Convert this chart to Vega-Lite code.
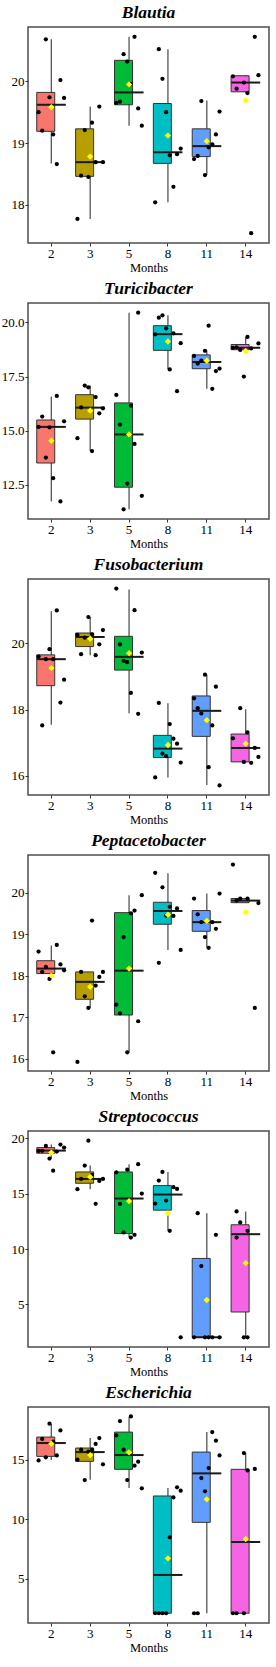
{
  "$schema": "https://vega.github.io/schema/vega-lite/v6.json",
  "padding": {"left": 0, "top": 2, "right": 0, "bottom": 0},
  "spacing": 3,
  "datasets": {
    "boxes": [
      {"genus": "Blautia", "month": "2", "lower": 18.67, "q1": 19.19, "median": 19.62, "q3": 19.82, "upper": 20.68, "mean": 19.58},
      {"genus": "Blautia", "month": "3", "lower": 17.77, "q1": 18.46, "median": 18.69, "q3": 19.23, "upper": 19.59, "mean": 18.78},
      {"genus": "Blautia", "month": "5", "lower": 19.28, "q1": 19.62, "median": 19.82, "q3": 20.34, "upper": 20.72, "mean": 19.95},
      {"genus": "Blautia", "month": "8", "lower": 18.04, "q1": 18.67, "median": 18.85, "q3": 19.64, "upper": 20.52, "mean": 19.12},
      {"genus": "Blautia", "month": "11", "lower": 18.48, "q1": 18.78, "median": 18.95, "q3": 19.23, "upper": 19.69, "mean": 19.03},
      {"genus": "Blautia", "month": "14", "lower": 19.81, "q1": 19.83, "median": 19.98, "q3": 20.09, "upper": 20.10, "mean": 19.69},
      {"genus": "Turicibacter", "month": "2", "lower": 11.72, "q1": 13.50, "median": 15.17, "q3": 15.49, "upper": 16.58, "mean": 14.53},
      {"genus": "Turicibacter", "month": "3", "lower": 14.05, "q1": 15.53, "median": 16.06, "q3": 16.66, "upper": 17.08, "mean": 15.92},
      {"genus": "Turicibacter", "month": "5", "lower": 11.36, "q1": 12.38, "median": 14.82, "q3": 16.28, "upper": 20.45, "mean": 14.82},
      {"genus": "Turicibacter", "month": "8", "lower": 17.83, "q1": 18.71, "median": 19.46, "q3": 19.85, "upper": 20.33, "mean": 19.12},
      {"genus": "Turicibacter", "month": "11", "lower": 16.93, "q1": 17.86, "median": 18.17, "q3": 18.50, "upper": 18.69, "mean": 18.23},
      {"genus": "Turicibacter", "month": "14", "lower": 18.73, "q1": 18.74, "median": 18.83, "q3": 18.98, "upper": 19.33, "mean": 18.68},
      {"genus": "Fusobacterium", "month": "2", "lower": 17.54, "q1": 18.72, "median": 19.52, "q3": 19.65, "upper": 20.97, "mean": 19.25},
      {"genus": "Fusobacterium", "month": "3", "lower": 19.64, "q1": 19.90, "median": 20.19, "q3": 20.31, "upper": 20.79, "mean": 20.14},
      {"genus": "Fusobacterium", "month": "5", "lower": 17.89, "q1": 19.19, "median": 19.59, "q3": 20.21, "upper": 21.62, "mean": 19.70},
      {"genus": "Fusobacterium", "month": "8", "lower": 15.95, "q1": 16.55, "median": 16.82, "q3": 17.22, "upper": 18.19, "mean": 16.93},
      {"genus": "Fusobacterium", "month": "11", "lower": 15.72, "q1": 17.19, "median": 17.96, "q3": 18.41, "upper": 19.05, "mean": 17.68},
      {"genus": "Fusobacterium", "month": "14", "lower": 16.39, "q1": 16.42, "median": 16.84, "q3": 17.26, "upper": 18.01, "mean": 16.97},
      {"genus": "Peptacetobacter", "month": "2", "lower": 17.92, "q1": 18.05, "median": 18.17, "q3": 18.36, "upper": 18.73, "mean": 18.00},
      {"genus": "Peptacetobacter", "month": "3", "lower": 17.22, "q1": 17.43, "median": 17.85, "q3": 18.09, "upper": 18.09, "mean": 17.73},
      {"genus": "Peptacetobacter", "month": "5", "lower": 16.15, "q1": 17.05, "median": 18.12, "q3": 19.52, "upper": 19.94, "mean": 18.17},
      {"genus": "Peptacetobacter", "month": "8", "lower": 18.62, "q1": 19.24, "median": 19.56, "q3": 19.77, "upper": 20.47, "mean": 19.47},
      {"genus": "Peptacetobacter", "month": "11", "lower": 18.67, "q1": 19.07, "median": 19.29, "q3": 19.57, "upper": 19.98, "mean": 19.32},
      {"genus": "Peptacetobacter", "month": "14", "lower": 19.75, "q1": 19.76, "median": 19.81, "q3": 19.86, "upper": 19.86, "mean": 19.53},
      {"genus": "Streptococcus", "month": "2", "lower": 18.17, "q1": 18.65, "median": 18.89, "q3": 19.16, "upper": 19.43, "mean": 18.71},
      {"genus": "Streptococcus", "month": "3", "lower": 15.40, "q1": 15.94, "median": 16.33, "q3": 16.96, "upper": 17.54, "mean": 16.51},
      {"genus": "Streptococcus", "month": "5", "lower": 11.04, "q1": 11.40, "median": 14.56, "q3": 16.96, "upper": 17.66, "mean": 14.32},
      {"genus": "Streptococcus", "month": "8", "lower": 11.64, "q1": 13.51, "median": 14.92, "q3": 15.73, "upper": 16.96, "mean": 13.24},
      {"genus": "Streptococcus", "month": "11", "lower": 2.03, "q1": 2.03, "median": 2.03, "q3": 9.15, "upper": 13.24, "mean": 5.39},
      {"genus": "Streptococcus", "month": "14", "lower": 2.03, "q1": 4.31, "median": 11.34, "q3": 12.19, "upper": 13.39, "mean": 8.73},
      {"genus": "Escherichia", "month": "2", "lower": 14.97, "q1": 15.28, "median": 16.40, "q3": 16.90, "upper": 18.00, "mean": 16.34},
      {"genus": "Escherichia", "month": "3", "lower": 13.32, "q1": 14.86, "median": 15.64, "q3": 15.98, "upper": 16.82, "mean": 15.39},
      {"genus": "Escherichia", "month": "5", "lower": 12.62, "q1": 14.19, "median": 15.39, "q3": 17.32, "upper": 18.56, "mean": 15.62},
      {"genus": "Escherichia", "month": "8", "lower": 2.09, "q1": 2.09, "median": 5.31, "q3": 11.95, "upper": 12.62, "mean": 6.71},
      {"genus": "Escherichia", "month": "11", "lower": 2.09, "q1": 9.73, "median": 13.85, "q3": 15.64, "upper": 17.32, "mean": 11.67},
      {"genus": "Escherichia", "month": "14", "lower": 2.09, "q1": 2.09, "median": 8.08, "q3": 14.19, "upper": 15.56, "mean": 8.33}
    ],
    "points": [
      {"genus": "Blautia", "month": "2", "rep": 1, "value": 19.50}, {"genus": "Blautia", "month": "2", "rep": 2, "value": 19.20}, {"genus": "Blautia", "month": "2", "rep": 3, "value": 20.68}, {"genus": "Blautia", "month": "2", "rep": 4, "value": 19.74}, {"genus": "Blautia", "month": "2", "rep": 5, "value": 19.14}, {"genus": "Blautia", "month": "2", "rep": 6, "value": 18.66}, {"genus": "Blautia", "month": "2", "rep": 7, "value": 20.02}, {"genus": "Blautia", "month": "2", "rep": 8, "value": 19.73},
      {"genus": "Blautia", "month": "3", "rep": 1, "value": 17.77}, {"genus": "Blautia", "month": "3", "rep": 2, "value": 18.47}, {"genus": "Blautia", "month": "3", "rep": 3, "value": 19.21}, {"genus": "Blautia", "month": "3", "rep": 4, "value": 18.45}, {"genus": "Blautia", "month": "3", "rep": 5, "value": 19.33}, {"genus": "Blautia", "month": "3", "rep": 6, "value": 18.69}, {"genus": "Blautia", "month": "3", "rep": 7, "value": 19.59}, {"genus": "Blautia", "month": "3", "rep": 8, "value": 18.69},
      {"genus": "Blautia", "month": "5", "rep": 1, "value": 19.65}, {"genus": "Blautia", "month": "5", "rep": 2, "value": 19.67}, {"genus": "Blautia", "month": "5", "rep": 3, "value": 20.44}, {"genus": "Blautia", "month": "5", "rep": 4, "value": 20.32}, {"genus": "Blautia", "month": "5", "rep": 5, "value": 19.96}, {"genus": "Blautia", "month": "5", "rep": 6, "value": 20.72}, {"genus": "Blautia", "month": "5", "rep": 7, "value": 19.56}, {"genus": "Blautia", "month": "5", "rep": 8, "value": 19.28},
      {"genus": "Blautia", "month": "8", "rep": 1, "value": 18.04}, {"genus": "Blautia", "month": "8", "rep": 2, "value": 20.52}, {"genus": "Blautia", "month": "8", "rep": 3, "value": 20.04}, {"genus": "Blautia", "month": "8", "rep": 4, "value": 19.50}, {"genus": "Blautia", "month": "8", "rep": 5, "value": 18.80}, {"genus": "Blautia", "month": "8", "rep": 6, "value": 18.29}, {"genus": "Blautia", "month": "8", "rep": 7, "value": 18.82}, {"genus": "Blautia", "month": "8", "rep": 8, "value": 18.91},
      {"genus": "Blautia", "month": "11", "rep": 1, "value": 18.74}, {"genus": "Blautia", "month": "11", "rep": 2, "value": 18.79}, {"genus": "Blautia", "month": "11", "rep": 3, "value": 19.68}, {"genus": "Blautia", "month": "11", "rep": 4, "value": 18.48}, {"genus": "Blautia", "month": "11", "rep": 5, "value": 18.93}, {"genus": "Blautia", "month": "11", "rep": 6, "value": 18.98}, {"genus": "Blautia", "month": "11", "rep": 7, "value": 19.14}, {"genus": "Blautia", "month": "11", "rep": 8, "value": 19.51},
      {"genus": "Blautia", "month": "14", "rep": 1, "value": 20.08}, {"genus": "Blautia", "month": "14", "rep": 2, "value": 19.88}, {"genus": "Blautia", "month": "14", "rep": 4, "value": 19.98}, {"genus": "Blautia", "month": "14", "rep": 5, "value": 19.81}, {"genus": "Blautia", "month": "14", "rep": 6, "value": 17.54}, {"genus": "Blautia", "month": "14", "rep": 7, "value": 20.72}, {"genus": "Blautia", "month": "14", "rep": 8, "value": 20.10},

      {"genus": "Turicibacter", "month": "2", "rep": 1, "value": 15.17}, {"genus": "Turicibacter", "month": "2", "rep": 2, "value": 15.65}, {"genus": "Turicibacter", "month": "2", "rep": 3, "value": 13.75}, {"genus": "Turicibacter", "month": "2", "rep": 4, "value": 15.15}, {"genus": "Turicibacter", "month": "2", "rep": 5, "value": 12.80}, {"genus": "Turicibacter", "month": "2", "rep": 6, "value": 16.60}, {"genus": "Turicibacter", "month": "2", "rep": 7, "value": 11.72}, {"genus": "Turicibacter", "month": "2", "rep": 8, "value": 15.43},
      {"genus": "Turicibacter", "month": "3", "rep": 1, "value": 14.65}, {"genus": "Turicibacter", "month": "3", "rep": 2, "value": 16.07}, {"genus": "Turicibacter", "month": "3", "rep": 3, "value": 17.08}, {"genus": "Turicibacter", "month": "3", "rep": 4, "value": 17.00}, {"genus": "Turicibacter", "month": "3", "rep": 5, "value": 14.05}, {"genus": "Turicibacter", "month": "3", "rep": 6, "value": 16.55}, {"genus": "Turicibacter", "month": "3", "rep": 7, "value": 15.80}, {"genus": "Turicibacter", "month": "3", "rep": 8, "value": 16.03},
      {"genus": "Turicibacter", "month": "5", "rep": 1, "value": 16.65}, {"genus": "Turicibacter", "month": "5", "rep": 2, "value": 15.28}, {"genus": "Turicibacter", "month": "5", "rep": 3, "value": 11.36}, {"genus": "Turicibacter", "month": "5", "rep": 4, "value": 12.55}, {"genus": "Turicibacter", "month": "5", "rep": 5, "value": 16.15}, {"genus": "Turicibacter", "month": "5", "rep": 6, "value": 14.38}, {"genus": "Turicibacter", "month": "5", "rep": 7, "value": 20.45}, {"genus": "Turicibacter", "month": "5", "rep": 8, "value": 11.98},
      {"genus": "Turicibacter", "month": "8", "rep": 1, "value": 19.45}, {"genus": "Turicibacter", "month": "8", "rep": 2, "value": 20.22}, {"genus": "Turicibacter", "month": "8", "rep": 3, "value": 20.33}, {"genus": "Turicibacter", "month": "8", "rep": 4, "value": 19.73}, {"genus": "Turicibacter", "month": "8", "rep": 5, "value": 17.83}, {"genus": "Turicibacter", "month": "8", "rep": 6, "value": 19.50}, {"genus": "Turicibacter", "month": "8", "rep": 7, "value": 16.82}, {"genus": "Turicibacter", "month": "8", "rep": 8, "value": 19.04},
      {"genus": "Turicibacter", "month": "11", "rep": 1, "value": 18.45}, {"genus": "Turicibacter", "month": "11", "rep": 2, "value": 18.10}, {"genus": "Turicibacter", "month": "11", "rep": 3, "value": 18.23}, {"genus": "Turicibacter", "month": "11", "rep": 4, "value": 18.69}, {"genus": "Turicibacter", "month": "11", "rep": 5, "value": 19.85}, {"genus": "Turicibacter", "month": "11", "rep": 6, "value": 16.93}, {"genus": "Turicibacter", "month": "11", "rep": 7, "value": 17.75}, {"genus": "Turicibacter", "month": "11", "rep": 8, "value": 17.87},
      {"genus": "Turicibacter", "month": "14", "rep": 1, "value": 18.83}, {"genus": "Turicibacter", "month": "14", "rep": 2, "value": 18.85}, {"genus": "Turicibacter", "month": "14", "rep": 3, "value": 18.73}, {"genus": "Turicibacter", "month": "14", "rep": 4, "value": 17.50}, {"genus": "Turicibacter", "month": "14", "rep": 5, "value": 19.33}, {"genus": "Turicibacter", "month": "14", "rep": 6, "value": 18.80}, {"genus": "Turicibacter", "month": "14", "rep": 8, "value": 19.03},

      {"genus": "Fusobacterium", "month": "2", "rep": 1, "value": 19.60}, {"genus": "Fusobacterium", "month": "2", "rep": 2, "value": 17.52}, {"genus": "Fusobacterium", "month": "2", "rep": 3, "value": 19.52}, {"genus": "Fusobacterium", "month": "2", "rep": 4, "value": 19.82}, {"genus": "Fusobacterium", "month": "2", "rep": 5, "value": 19.52}, {"genus": "Fusobacterium", "month": "2", "rep": 6, "value": 20.99}, {"genus": "Fusobacterium", "month": "2", "rep": 7, "value": 18.21}, {"genus": "Fusobacterium", "month": "2", "rep": 8, "value": 18.90},
      {"genus": "Fusobacterium", "month": "3", "rep": 1, "value": 20.25}, {"genus": "Fusobacterium", "month": "3", "rep": 2, "value": 19.67}, {"genus": "Fusobacterium", "month": "3", "rep": 3, "value": 20.17}, {"genus": "Fusobacterium", "month": "3", "rep": 4, "value": 20.79}, {"genus": "Fusobacterium", "month": "3", "rep": 5, "value": 20.27}, {"genus": "Fusobacterium", "month": "3", "rep": 6, "value": 19.64}, {"genus": "Fusobacterium", "month": "3", "rep": 7, "value": 19.97}, {"genus": "Fusobacterium", "month": "3", "rep": 8, "value": 20.40},
      {"genus": "Fusobacterium", "month": "5", "rep": 1, "value": 21.65}, {"genus": "Fusobacterium", "month": "5", "rep": 2, "value": 19.97}, {"genus": "Fusobacterium", "month": "5", "rep": 3, "value": 19.47}, {"genus": "Fusobacterium", "month": "5", "rep": 4, "value": 19.43}, {"genus": "Fusobacterium", "month": "5", "rep": 5, "value": 18.50}, {"genus": "Fusobacterium", "month": "5", "rep": 6, "value": 21.00}, {"genus": "Fusobacterium", "month": "5", "rep": 7, "value": 17.87}, {"genus": "Fusobacterium", "month": "5", "rep": 8, "value": 19.72},
      {"genus": "Fusobacterium", "month": "8", "rep": 1, "value": 15.95}, {"genus": "Fusobacterium", "month": "8", "rep": 2, "value": 18.20}, {"genus": "Fusobacterium", "month": "8", "rep": 3, "value": 16.67}, {"genus": "Fusobacterium", "month": "8", "rep": 4, "value": 16.59}, {"genus": "Fusobacterium", "month": "8", "rep": 5, "value": 17.56}, {"genus": "Fusobacterium", "month": "8", "rep": 6, "value": 17.12}, {"genus": "Fusobacterium", "month": "8", "rep": 7, "value": 16.97}, {"genus": "Fusobacterium", "month": "8", "rep": 8, "value": 16.40},
      {"genus": "Fusobacterium", "month": "11", "rep": 1, "value": 18.34}, {"genus": "Fusobacterium", "month": "11", "rep": 2, "value": 18.04}, {"genus": "Fusobacterium", "month": "11", "rep": 3, "value": 17.88}, {"genus": "Fusobacterium", "month": "11", "rep": 4, "value": 19.05}, {"genus": "Fusobacterium", "month": "11", "rep": 5, "value": 16.26}, {"genus": "Fusobacterium", "month": "11", "rep": 6, "value": 17.52}, {"genus": "Fusobacterium", "month": "11", "rep": 7, "value": 18.69}, {"genus": "Fusobacterium", "month": "11", "rep": 8, "value": 15.71},
      {"genus": "Fusobacterium", "month": "14", "rep": 1, "value": 17.13}, {"genus": "Fusobacterium", "month": "14", "rep": 3, "value": 18.04}, {"genus": "Fusobacterium", "month": "14", "rep": 4, "value": 16.42}, {"genus": "Fusobacterium", "month": "14", "rep": 5, "value": 17.31}, {"genus": "Fusobacterium", "month": "14", "rep": 6, "value": 16.39}, {"genus": "Fusobacterium", "month": "14", "rep": 7, "value": 16.84}, {"genus": "Fusobacterium", "month": "14", "rep": 8, "value": 16.57},

      {"genus": "Peptacetobacter", "month": "2", "rep": 1, "value": 18.58}, {"genus": "Peptacetobacter", "month": "2", "rep": 2, "value": 18.09}, {"genus": "Peptacetobacter", "month": "2", "rep": 3, "value": 18.21}, {"genus": "Peptacetobacter", "month": "2", "rep": 4, "value": 17.92}, {"genus": "Peptacetobacter", "month": "2", "rep": 5, "value": 16.15}, {"genus": "Peptacetobacter", "month": "2", "rep": 6, "value": 18.74}, {"genus": "Peptacetobacter", "month": "2", "rep": 7, "value": 18.27}, {"genus": "Peptacetobacter", "month": "2", "rep": 8, "value": 18.13},
      {"genus": "Peptacetobacter", "month": "3", "rep": 1, "value": 15.92}, {"genus": "Peptacetobacter", "month": "3", "rep": 2, "value": 18.09}, {"genus": "Peptacetobacter", "month": "3", "rep": 3, "value": 17.50}, {"genus": "Peptacetobacter", "month": "3", "rep": 4, "value": 17.22}, {"genus": "Peptacetobacter", "month": "3", "rep": 5, "value": 19.33}, {"genus": "Peptacetobacter", "month": "3", "rep": 6, "value": 17.76}, {"genus": "Peptacetobacter", "month": "3", "rep": 7, "value": 17.97}, {"genus": "Peptacetobacter", "month": "3", "rep": 8, "value": 18.09},
      {"genus": "Peptacetobacter", "month": "5", "rep": 1, "value": 17.30}, {"genus": "Peptacetobacter", "month": "5", "rep": 2, "value": 17.09}, {"genus": "Peptacetobacter", "month": "5", "rep": 3, "value": 18.93}, {"genus": "Peptacetobacter", "month": "5", "rep": 4, "value": 16.15}, {"genus": "Peptacetobacter", "month": "5", "rep": 5, "value": 19.50}, {"genus": "Peptacetobacter", "month": "5", "rep": 6, "value": 19.57}, {"genus": "Peptacetobacter", "month": "5", "rep": 7, "value": 16.90}, {"genus": "Peptacetobacter", "month": "5", "rep": 8, "value": 19.94},
      {"genus": "Peptacetobacter", "month": "8", "rep": 1, "value": 20.48}, {"genus": "Peptacetobacter", "month": "8", "rep": 2, "value": 18.31}, {"genus": "Peptacetobacter", "month": "8", "rep": 3, "value": 20.13}, {"genus": "Peptacetobacter", "month": "8", "rep": 4, "value": 19.45}, {"genus": "Peptacetobacter", "month": "8", "rep": 5, "value": 19.66}, {"genus": "Peptacetobacter", "month": "8", "rep": 6, "value": 19.44}, {"genus": "Peptacetobacter", "month": "8", "rep": 7, "value": 19.62}, {"genus": "Peptacetobacter", "month": "8", "rep": 8, "value": 18.62},
      {"genus": "Peptacetobacter", "month": "11", "rep": 1, "value": 19.86}, {"genus": "Peptacetobacter", "month": "11", "rep": 2, "value": 19.48}, {"genus": "Peptacetobacter", "month": "11", "rep": 3, "value": 19.29}, {"genus": "Peptacetobacter", "month": "11", "rep": 4, "value": 18.93}, {"genus": "Peptacetobacter", "month": "11", "rep": 5, "value": 18.67}, {"genus": "Peptacetobacter", "month": "11", "rep": 6, "value": 19.29}, {"genus": "Peptacetobacter", "month": "11", "rep": 7, "value": 19.13}, {"genus": "Peptacetobacter", "month": "11", "rep": 8, "value": 19.98},
      {"genus": "Peptacetobacter", "month": "14", "rep": 1, "value": 20.68}, {"genus": "Peptacetobacter", "month": "14", "rep": 2, "value": 19.81}, {"genus": "Peptacetobacter", "month": "14", "rep": 3, "value": 19.86}, {"genus": "Peptacetobacter", "month": "14", "rep": 5, "value": 19.86}, {"genus": "Peptacetobacter", "month": "14", "rep": 7, "value": 17.22}, {"genus": "Peptacetobacter", "month": "14", "rep": 8, "value": 19.75},

      {"genus": "Streptococcus", "month": "2", "rep": 1, "value": 18.86}, {"genus": "Streptococcus", "month": "2", "rep": 2, "value": 18.87}, {"genus": "Streptococcus", "month": "2", "rep": 3, "value": 19.31}, {"genus": "Streptococcus", "month": "2", "rep": 4, "value": 18.17}, {"genus": "Streptococcus", "month": "2", "rep": 5, "value": 17.08}, {"genus": "Streptococcus", "month": "2", "rep": 6, "value": 18.80}, {"genus": "Streptococcus", "month": "2", "rep": 7, "value": 19.43}, {"genus": "Streptococcus", "month": "2", "rep": 8, "value": 19.16},
      {"genus": "Streptococcus", "month": "3", "rep": 1, "value": 15.40}, {"genus": "Streptococcus", "month": "3", "rep": 2, "value": 16.33}, {"genus": "Streptococcus", "month": "3", "rep": 3, "value": 17.54}, {"genus": "Streptococcus", "month": "3", "rep": 4, "value": 19.79}, {"genus": "Streptococcus", "month": "3", "rep": 5, "value": 16.69}, {"genus": "Streptococcus", "month": "3", "rep": 6, "value": 14.08}, {"genus": "Streptococcus", "month": "3", "rep": 7, "value": 16.15}, {"genus": "Streptococcus", "month": "3", "rep": 8, "value": 16.33},
      {"genus": "Streptococcus", "month": "5", "rep": 1, "value": 16.93}, {"genus": "Streptococcus", "month": "5", "rep": 2, "value": 14.08}, {"genus": "Streptococcus", "month": "5", "rep": 3, "value": 11.50}, {"genus": "Streptococcus", "month": "5", "rep": 4, "value": 17.17}, {"genus": "Streptococcus", "month": "5", "rep": 5, "value": 11.04}, {"genus": "Streptococcus", "month": "5", "rep": 6, "value": 11.28}, {"genus": "Streptococcus", "month": "5", "rep": 7, "value": 17.66}, {"genus": "Streptococcus", "month": "5", "rep": 8, "value": 15.01},
      {"genus": "Streptococcus", "month": "8", "rep": 1, "value": 14.11}, {"genus": "Streptococcus", "month": "8", "rep": 2, "value": 16.18}, {"genus": "Streptococcus", "month": "8", "rep": 3, "value": 16.96}, {"genus": "Streptococcus", "month": "8", "rep": 4, "value": 14.38}, {"genus": "Streptococcus", "month": "8", "rep": 5, "value": 11.64}, {"genus": "Streptococcus", "month": "8", "rep": 6, "value": 15.58}, {"genus": "Streptococcus", "month": "8", "rep": 7, "value": 15.43}, {"genus": "Streptococcus", "month": "8", "rep": 8, "value": 2.03},
      {"genus": "Streptococcus", "month": "11", "rep": 1, "value": 2.03}, {"genus": "Streptococcus", "month": "11", "rep": 2, "value": 13.24}, {"genus": "Streptococcus", "month": "11", "rep": 3, "value": 8.46}, {"genus": "Streptococcus", "month": "11", "rep": 4, "value": 2.03}, {"genus": "Streptococcus", "month": "11", "rep": 5, "value": 2.03}, {"genus": "Streptococcus", "month": "11", "rep": 6, "value": 2.03}, {"genus": "Streptococcus", "month": "11", "rep": 7, "value": 11.28}, {"genus": "Streptococcus", "month": "11", "rep": 8, "value": 2.03},
      {"genus": "Streptococcus", "month": "14", "rep": 2, "value": 13.39}, {"genus": "Streptococcus", "month": "14", "rep": 2, "value": 11.04}, {"genus": "Streptococcus", "month": "14", "rep": 3, "value": 12.40}, {"genus": "Streptococcus", "month": "14", "rep": 4, "value": 2.03}, {"genus": "Streptococcus", "month": "14", "rep": 5, "value": 2.03}, {"genus": "Streptococcus", "month": "14", "rep": 5, "value": 11.64},

      {"genus": "Escherichia", "month": "2", "rep": 1, "value": 14.94}, {"genus": "Escherichia", "month": "2", "rep": 2, "value": 16.74}, {"genus": "Escherichia", "month": "2", "rep": 3, "value": 15.20}, {"genus": "Escherichia", "month": "2", "rep": 4, "value": 18.03}, {"genus": "Escherichia", "month": "2", "rep": 5, "value": 16.51}, {"genus": "Escherichia", "month": "2", "rep": 6, "value": 15.36}, {"genus": "Escherichia", "month": "2", "rep": 7, "value": 17.46},
      {"genus": "Escherichia", "month": "3", "rep": 1, "value": 15.00}, {"genus": "Escherichia", "month": "3", "rep": 2, "value": 15.84}, {"genus": "Escherichia", "month": "3", "rep": 3, "value": 13.29}, {"genus": "Escherichia", "month": "3", "rep": 4, "value": 15.67}, {"genus": "Escherichia", "month": "3", "rep": 5, "value": 15.84}, {"genus": "Escherichia", "month": "3", "rep": 6, "value": 16.32}, {"genus": "Escherichia", "month": "3", "rep": 7, "value": 16.82}, {"genus": "Escherichia", "month": "3", "rep": 8, "value": 14.61},
      {"genus": "Escherichia", "month": "5", "rep": 1, "value": 17.04}, {"genus": "Escherichia", "month": "5", "rep": 2, "value": 18.25}, {"genus": "Escherichia", "month": "5", "rep": 3, "value": 15.84}, {"genus": "Escherichia", "month": "5", "rep": 4, "value": 13.29}, {"genus": "Escherichia", "month": "5", "rep": 5, "value": 18.64}, {"genus": "Escherichia", "month": "5", "rep": 6, "value": 14.50}, {"genus": "Escherichia", "month": "5", "rep": 7, "value": 14.83}, {"genus": "Escherichia", "month": "5", "rep": 8, "value": 12.59},
      {"genus": "Escherichia", "month": "8", "rep": 1, "value": 2.09}, {"genus": "Escherichia", "month": "8", "rep": 2, "value": 2.09}, {"genus": "Escherichia", "month": "8", "rep": 3, "value": 2.09}, {"genus": "Escherichia", "month": "8", "rep": 4, "value": 2.09}, {"genus": "Escherichia", "month": "8", "rep": 5, "value": 8.47}, {"genus": "Escherichia", "month": "8", "rep": 6, "value": 11.83}, {"genus": "Escherichia", "month": "8", "rep": 7, "value": 12.68}, {"genus": "Escherichia", "month": "8", "rep": 8, "value": 12.39},
      {"genus": "Escherichia", "month": "11", "rep": 1, "value": 2.09}, {"genus": "Escherichia", "month": "11", "rep": 2, "value": 2.09}, {"genus": "Escherichia", "month": "11", "rep": 3, "value": 13.46}, {"genus": "Escherichia", "month": "11", "rep": 4, "value": 12.34}, {"genus": "Escherichia", "month": "11", "rep": 5, "value": 14.30}, {"genus": "Escherichia", "month": "11", "rep": 6, "value": 17.32}, {"genus": "Escherichia", "month": "11", "rep": 7, "value": 16.60}, {"genus": "Escherichia", "month": "11", "rep": 8, "value": 15.36},
      {"genus": "Escherichia", "month": "14", "rep": 1, "value": 2.09}, {"genus": "Escherichia", "month": "14", "rep": 2, "value": 2.09}, {"genus": "Escherichia", "month": "14", "rep": 4, "value": 2.09}, {"genus": "Escherichia", "month": "14", "rep": 4, "value": 15.56}, {"genus": "Escherichia", "month": "14", "rep": 5, "value": 14.10}, {"genus": "Escherichia", "month": "14", "rep": 7, "value": 14.22}
    ]
  },
  "vconcat": [
    {
      "title": "Blautia",
      "width": 241, "height": 216,
      "layer": [
        {"data": {"name": "boxes"}, "transform": [{"filter": "datum.genus === 'Blautia'"}],
         "mark": {"type": "rule", "color": "#555555", "strokeWidth": 1.3},
         "encoding": {
           "x": {"field": "month", "type": "ordinal", "sort": ["2", "3", "5", "8", "11", "14"], "scale": {"type": "band", "paddingInner": 0.25, "paddingOuter": 0.225}, "axis": {"title": "Months", "labelAngle": 0}},
           "y": {"field": "lower", "type": "quantitative", "title": null, "scale": {"domain": [17.38, 20.88], "nice": false, "zero": false}, "axis": {"values": [18, 19, 20], "format": "d"}},
           "y2": {"field": "upper"}}},
        {"data": {"name": "boxes"}, "transform": [{"filter": "datum.genus === 'Blautia'"}],
         "mark": {"type": "bar", "stroke": "#333333", "strokeWidth": 1},
         "encoding": {
           "x": {"field": "month", "type": "ordinal", "sort": ["2", "3", "5", "8", "11", "14"]},
           "y": {"field": "q1", "type": "quantitative", "title": null}, "y2": {"field": "q3"},
           "color": {"field": "month", "type": "nominal", "legend": null, "scale": {"domain": ["2", "3", "5", "8", "11", "14"], "range": ["#F8766D", "#B79F00", "#00BA38", "#00BFC4", "#619CFF", "#F564E3"]}}}},
        {"data": {"name": "boxes"}, "transform": [{"filter": "datum.genus === 'Blautia'"}],
         "mark": {"type": "tick", "color": "#1a1a1a", "thickness": 2, "size": 29, "opacity": 1},
         "encoding": {
           "x": {"field": "month", "type": "ordinal", "sort": ["2", "3", "5", "8", "11", "14"]},
           "y": {"field": "median", "type": "quantitative", "title": null}}},
        {"data": {"name": "points"}, "transform": [{"filter": "datum.genus === 'Blautia'"}],
         "mark": {"type": "circle", "color": "black", "size": 18, "opacity": 1},
         "encoding": {
           "x": {"field": "month", "type": "ordinal", "sort": ["2", "3", "5", "8", "11", "14"]},
           "xOffset": {"field": "rep", "type": "ordinal", "scale": {"domain": [1, 2, 3, 4, 5, 6, 7, 8]}},
           "y": {"field": "value", "type": "quantitative", "title": null}}},
        {"data": {"name": "boxes"}, "transform": [{"filter": "datum.genus === 'Blautia'"}],
         "mark": {"type": "point", "shape": "diamond", "filled": true, "color": "#FFFF00", "size": 40, "opacity": 1},
         "encoding": {
           "x": {"field": "month", "type": "ordinal", "sort": ["2", "3", "5", "8", "11", "14"]},
           "y": {"field": "mean", "type": "quantitative", "title": null}}}
      ]
    },
    {
      "title": "Turicibacter",
      "width": 241, "height": 216,
      "layer": [
        {"data": {"name": "boxes"}, "transform": [{"filter": "datum.genus === 'Turicibacter'"}],
         "mark": {"type": "rule", "color": "#555555", "strokeWidth": 1.3},
         "encoding": {
           "x": {"field": "month", "type": "ordinal", "sort": ["2", "3", "5", "8", "11", "14"], "scale": {"type": "band", "paddingInner": 0.25, "paddingOuter": 0.225}, "axis": {"title": "Months", "labelAngle": 0}},
           "y": {"field": "lower", "type": "quantitative", "title": null, "scale": {"domain": [10.91, 20.9], "nice": false, "zero": false}, "axis": {"values": [12.5, 15, 17.5, 20], "format": ".1f"}},
           "y2": {"field": "upper"}}},
        {"data": {"name": "boxes"}, "transform": [{"filter": "datum.genus === 'Turicibacter'"}],
         "mark": {"type": "bar", "stroke": "#333333", "strokeWidth": 1},
         "encoding": {
           "x": {"field": "month", "type": "ordinal", "sort": ["2", "3", "5", "8", "11", "14"]},
           "y": {"field": "q1", "type": "quantitative", "title": null}, "y2": {"field": "q3"},
           "color": {"field": "month", "type": "nominal", "legend": null, "scale": {"domain": ["2", "3", "5", "8", "11", "14"], "range": ["#F8766D", "#B79F00", "#00BA38", "#00BFC4", "#619CFF", "#F564E3"]}}}},
        {"data": {"name": "boxes"}, "transform": [{"filter": "datum.genus === 'Turicibacter'"}],
         "mark": {"type": "tick", "color": "#1a1a1a", "thickness": 2, "size": 29, "opacity": 1},
         "encoding": {
           "x": {"field": "month", "type": "ordinal", "sort": ["2", "3", "5", "8", "11", "14"]},
           "y": {"field": "median", "type": "quantitative", "title": null}}},
        {"data": {"name": "points"}, "transform": [{"filter": "datum.genus === 'Turicibacter'"}],
         "mark": {"type": "circle", "color": "black", "size": 18, "opacity": 1},
         "encoding": {
           "x": {"field": "month", "type": "ordinal", "sort": ["2", "3", "5", "8", "11", "14"]},
           "xOffset": {"field": "rep", "type": "ordinal", "scale": {"domain": [1, 2, 3, 4, 5, 6, 7, 8]}},
           "y": {"field": "value", "type": "quantitative", "title": null}}},
        {"data": {"name": "boxes"}, "transform": [{"filter": "datum.genus === 'Turicibacter'"}],
         "mark": {"type": "point", "shape": "diamond", "filled": true, "color": "#FFFF00", "size": 40, "opacity": 1},
         "encoding": {
           "x": {"field": "month", "type": "ordinal", "sort": ["2", "3", "5", "8", "11", "14"]},
           "y": {"field": "mean", "type": "quantitative", "title": null}}}
      ]
    },
    {
      "title": "Fusobacterium",
      "width": 241, "height": 216,
      "layer": [
        {"data": {"name": "boxes"}, "transform": [{"filter": "datum.genus === 'Fusobacterium'"}],
         "mark": {"type": "rule", "color": "#555555", "strokeWidth": 1.3},
         "encoding": {
           "x": {"field": "month", "type": "ordinal", "sort": ["2", "3", "5", "8", "11", "14"], "scale": {"type": "band", "paddingInner": 0.25, "paddingOuter": 0.225}, "axis": {"title": "Months", "labelAngle": 0}},
           "y": {"field": "lower", "type": "quantitative", "title": null, "scale": {"domain": [15.42, 21.94], "nice": false, "zero": false}, "axis": {"values": [16, 18, 20], "format": "d"}},
           "y2": {"field": "upper"}}},
        {"data": {"name": "boxes"}, "transform": [{"filter": "datum.genus === 'Fusobacterium'"}],
         "mark": {"type": "bar", "stroke": "#333333", "strokeWidth": 1},
         "encoding": {
           "x": {"field": "month", "type": "ordinal", "sort": ["2", "3", "5", "8", "11", "14"]},
           "y": {"field": "q1", "type": "quantitative", "title": null}, "y2": {"field": "q3"},
           "color": {"field": "month", "type": "nominal", "legend": null, "scale": {"domain": ["2", "3", "5", "8", "11", "14"], "range": ["#F8766D", "#B79F00", "#00BA38", "#00BFC4", "#619CFF", "#F564E3"]}}}},
        {"data": {"name": "boxes"}, "transform": [{"filter": "datum.genus === 'Fusobacterium'"}],
         "mark": {"type": "tick", "color": "#1a1a1a", "thickness": 2, "size": 29, "opacity": 1},
         "encoding": {
           "x": {"field": "month", "type": "ordinal", "sort": ["2", "3", "5", "8", "11", "14"]},
           "y": {"field": "median", "type": "quantitative", "title": null}}},
        {"data": {"name": "points"}, "transform": [{"filter": "datum.genus === 'Fusobacterium'"}],
         "mark": {"type": "circle", "color": "black", "size": 18, "opacity": 1},
         "encoding": {
           "x": {"field": "month", "type": "ordinal", "sort": ["2", "3", "5", "8", "11", "14"]},
           "xOffset": {"field": "rep", "type": "ordinal", "scale": {"domain": [1, 2, 3, 4, 5, 6, 7, 8]}},
           "y": {"field": "value", "type": "quantitative", "title": null}}},
        {"data": {"name": "boxes"}, "transform": [{"filter": "datum.genus === 'Fusobacterium'"}],
         "mark": {"type": "point", "shape": "diamond", "filled": true, "color": "#FFFF00", "size": 40, "opacity": 1},
         "encoding": {
           "x": {"field": "month", "type": "ordinal", "sort": ["2", "3", "5", "8", "11", "14"]},
           "y": {"field": "mean", "type": "quantitative", "title": null}}}
      ]
    },
    {
      "title": "Peptacetobacter",
      "width": 241, "height": 216,
      "layer": [
        {"data": {"name": "boxes"}, "transform": [{"filter": "datum.genus === 'Peptacetobacter'"}],
         "mark": {"type": "rule", "color": "#555555", "strokeWidth": 1.3},
         "encoding": {
           "x": {"field": "month", "type": "ordinal", "sort": ["2", "3", "5", "8", "11", "14"], "scale": {"type": "band", "paddingInner": 0.25, "paddingOuter": 0.225}, "axis": {"title": "Months", "labelAngle": 0}},
           "y": {"field": "lower", "type": "quantitative", "title": null, "scale": {"domain": [15.7, 20.91], "nice": false, "zero": false}, "axis": {"values": [16, 17, 18, 19, 20], "format": "d"}},
           "y2": {"field": "upper"}}},
        {"data": {"name": "boxes"}, "transform": [{"filter": "datum.genus === 'Peptacetobacter'"}],
         "mark": {"type": "bar", "stroke": "#333333", "strokeWidth": 1},
         "encoding": {
           "x": {"field": "month", "type": "ordinal", "sort": ["2", "3", "5", "8", "11", "14"]},
           "y": {"field": "q1", "type": "quantitative", "title": null}, "y2": {"field": "q3"},
           "color": {"field": "month", "type": "nominal", "legend": null, "scale": {"domain": ["2", "3", "5", "8", "11", "14"], "range": ["#F8766D", "#B79F00", "#00BA38", "#00BFC4", "#619CFF", "#F564E3"]}}}},
        {"data": {"name": "boxes"}, "transform": [{"filter": "datum.genus === 'Peptacetobacter'"}],
         "mark": {"type": "tick", "color": "#1a1a1a", "thickness": 2, "size": 29, "opacity": 1},
         "encoding": {
           "x": {"field": "month", "type": "ordinal", "sort": ["2", "3", "5", "8", "11", "14"]},
           "y": {"field": "median", "type": "quantitative", "title": null}}},
        {"data": {"name": "points"}, "transform": [{"filter": "datum.genus === 'Peptacetobacter'"}],
         "mark": {"type": "circle", "color": "black", "size": 18, "opacity": 1},
         "encoding": {
           "x": {"field": "month", "type": "ordinal", "sort": ["2", "3", "5", "8", "11", "14"]},
           "xOffset": {"field": "rep", "type": "ordinal", "scale": {"domain": [1, 2, 3, 4, 5, 6, 7, 8]}},
           "y": {"field": "value", "type": "quantitative", "title": null}}},
        {"data": {"name": "boxes"}, "transform": [{"filter": "datum.genus === 'Peptacetobacter'"}],
         "mark": {"type": "point", "shape": "diamond", "filled": true, "color": "#FFFF00", "size": 40, "opacity": 1},
         "encoding": {
           "x": {"field": "month", "type": "ordinal", "sort": ["2", "3", "5", "8", "11", "14"]},
           "y": {"field": "mean", "type": "quantitative", "title": null}}}
      ]
    },
    {
      "title": "Streptococcus",
      "width": 241, "height": 216,
      "layer": [
        {"data": {"name": "boxes"}, "transform": [{"filter": "datum.genus === 'Streptococcus'"}],
         "mark": {"type": "rule", "color": "#555555", "strokeWidth": 1.3},
         "encoding": {
           "x": {"field": "month", "type": "ordinal", "sort": ["2", "3", "5", "8", "11", "14"], "scale": {"type": "band", "paddingInner": 0.25, "paddingOuter": 0.225}, "axis": {"title": "Months", "labelAngle": 0}},
           "y": {"field": "lower", "type": "quantitative", "title": null, "scale": {"domain": [1.15, 20.66], "nice": false, "zero": false}, "axis": {"values": [5, 10, 15, 20], "format": "d"}},
           "y2": {"field": "upper"}}},
        {"data": {"name": "boxes"}, "transform": [{"filter": "datum.genus === 'Streptococcus'"}],
         "mark": {"type": "bar", "stroke": "#333333", "strokeWidth": 1},
         "encoding": {
           "x": {"field": "month", "type": "ordinal", "sort": ["2", "3", "5", "8", "11", "14"]},
           "y": {"field": "q1", "type": "quantitative", "title": null}, "y2": {"field": "q3"},
           "color": {"field": "month", "type": "nominal", "legend": null, "scale": {"domain": ["2", "3", "5", "8", "11", "14"], "range": ["#F8766D", "#B79F00", "#00BA38", "#00BFC4", "#619CFF", "#F564E3"]}}}},
        {"data": {"name": "boxes"}, "transform": [{"filter": "datum.genus === 'Streptococcus'"}],
         "mark": {"type": "tick", "color": "#1a1a1a", "thickness": 2, "size": 29, "opacity": 1},
         "encoding": {
           "x": {"field": "month", "type": "ordinal", "sort": ["2", "3", "5", "8", "11", "14"]},
           "y": {"field": "median", "type": "quantitative", "title": null}}},
        {"data": {"name": "points"}, "transform": [{"filter": "datum.genus === 'Streptococcus'"}],
         "mark": {"type": "circle", "color": "black", "size": 18, "opacity": 1},
         "encoding": {
           "x": {"field": "month", "type": "ordinal", "sort": ["2", "3", "5", "8", "11", "14"]},
           "xOffset": {"field": "rep", "type": "ordinal", "scale": {"domain": [1, 2, 3, 4, 5, 6, 7, 8]}},
           "y": {"field": "value", "type": "quantitative", "title": null}}},
        {"data": {"name": "boxes"}, "transform": [{"filter": "datum.genus === 'Streptococcus'"}],
         "mark": {"type": "point", "shape": "diamond", "filled": true, "color": "#FFFF00", "size": 40, "opacity": 1},
         "encoding": {
           "x": {"field": "month", "type": "ordinal", "sort": ["2", "3", "5", "8", "11", "14"]},
           "y": {"field": "mean", "type": "quantitative", "title": null}}}
      ]
    },
    {
      "title": "Escherichia",
      "width": 241, "height": 216,
      "layer": [
        {"data": {"name": "boxes"}, "transform": [{"filter": "datum.genus === 'Escherichia'"}],
         "mark": {"type": "rule", "color": "#555555", "strokeWidth": 1.3},
         "encoding": {
           "x": {"field": "month", "type": "ordinal", "sort": ["2", "3", "5", "8", "11", "14"], "scale": {"type": "band", "paddingInner": 0.25, "paddingOuter": 0.225}, "axis": {"title": "Months", "labelAngle": 0}},
           "y": {"field": "lower", "type": "quantitative", "title": null, "scale": {"domain": [1.27, 19.43], "nice": false, "zero": false}, "axis": {"values": [5, 10, 15], "format": "d"}},
           "y2": {"field": "upper"}}},
        {"data": {"name": "boxes"}, "transform": [{"filter": "datum.genus === 'Escherichia'"}],
         "mark": {"type": "bar", "stroke": "#333333", "strokeWidth": 1},
         "encoding": {
           "x": {"field": "month", "type": "ordinal", "sort": ["2", "3", "5", "8", "11", "14"]},
           "y": {"field": "q1", "type": "quantitative", "title": null}, "y2": {"field": "q3"},
           "color": {"field": "month", "type": "nominal", "legend": null, "scale": {"domain": ["2", "3", "5", "8", "11", "14"], "range": ["#F8766D", "#B79F00", "#00BA38", "#00BFC4", "#619CFF", "#F564E3"]}}}},
        {"data": {"name": "boxes"}, "transform": [{"filter": "datum.genus === 'Escherichia'"}],
         "mark": {"type": "tick", "color": "#1a1a1a", "thickness": 2, "size": 29, "opacity": 1},
         "encoding": {
           "x": {"field": "month", "type": "ordinal", "sort": ["2", "3", "5", "8", "11", "14"]},
           "y": {"field": "median", "type": "quantitative", "title": null}}},
        {"data": {"name": "points"}, "transform": [{"filter": "datum.genus === 'Escherichia'"}],
         "mark": {"type": "circle", "color": "black", "size": 18, "opacity": 1},
         "encoding": {
           "x": {"field": "month", "type": "ordinal", "sort": ["2", "3", "5", "8", "11", "14"]},
           "xOffset": {"field": "rep", "type": "ordinal", "scale": {"domain": [1, 2, 3, 4, 5, 6, 7, 8]}},
           "y": {"field": "value", "type": "quantitative", "title": null}}},
        {"data": {"name": "boxes"}, "transform": [{"filter": "datum.genus === 'Escherichia'"}],
         "mark": {"type": "point", "shape": "diamond", "filled": true, "color": "#FFFF00", "size": 40, "opacity": 1},
         "encoding": {
           "x": {"field": "month", "type": "ordinal", "sort": ["2", "3", "5", "8", "11", "14"]},
           "y": {"field": "mean", "type": "quantitative", "title": null}}}
      ]
    }
  ],
  "config": {
    "font": "Liberation Serif",
    "background": "white",
    "view": {"stroke": "#4d4d4d", "strokeWidth": 1.5},
    "axis": {"grid": false, "domain": false, "tickColor": "#333333", "tickSize": 3, "labelColor": "black", "labelFont": "Liberation Serif", "labelFontSize": 13, "labelPadding": 1, "titleFont": "Liberation Serif", "titleFontSize": 12.5, "titleFontWeight": "normal", "titleColor": "black", "titlePadding": 1},
    "title": {"font": "Liberation Serif", "fontSize": 17.5, "fontStyle": "italic", "fontWeight": "bold", "color": "black", "anchor": "middle", "offset": 6}
  }
}
